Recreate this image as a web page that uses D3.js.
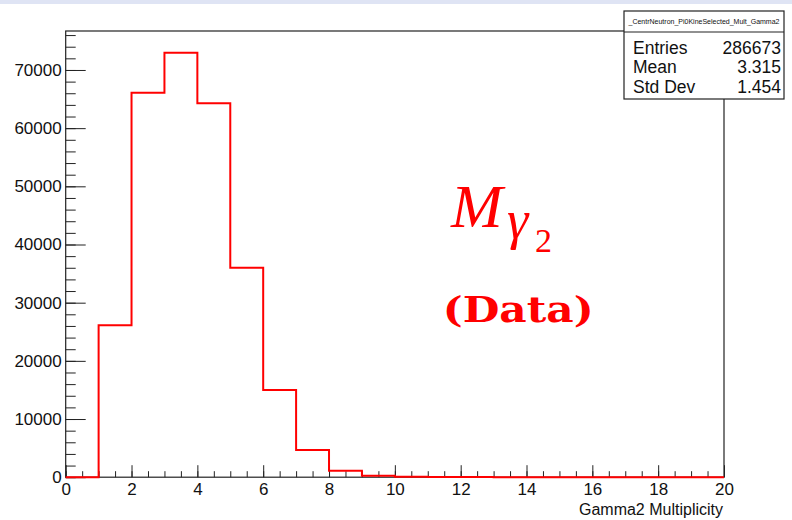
<!DOCTYPE html>
<html>
<head>
<meta charset="utf-8">
<script src="https://cdn.jsdelivr.net/npm/d3@7"></script>
<style>
  body { margin: 0; background: #fff; }
  svg { display: block; font-family: "Liberation Sans", Arial, sans-serif; }
</style>
</head>
<body>
<div id="chart"></div>
<script>
// histogram bins: lower edges 0..19, width 1
const binEdges = [0, 1, 2, 3, 4, 5, 6, 7, 8, 9, 10, 11, 12, 13, 14, 15, 16, 17, 18, 19]
const binCounts = [0, 26100, 66100, 72980, 64280, 36020, 14970, 4680, 1120, 260, 90, 40, 15, 5, 2, 1, 0, 0, 0, 0]
const xMajorTicks = [0, 2, 4, 6, 8, 10, 12, 14, 16, 18, 20]
const yMajorTicks = [0, 10000, 20000, 30000, 40000, 50000, 60000, 70000]
const statLabels = ["Entries", "Mean", "Std Dev"]
const statValues = ["286673", "3.315", "1.454"]
const histName = "_CentrNeutron_Pi0KineSelected_Mult_Gamma2"
const xTitle = "Gamma2 Multiplicity"

const W = 792, H = 520
const FRAME = { LEFT: 65.7, RIGHT: 724, TOP: 31, BOTTOM: 477.2 }
const RED = "#ff0000"

const svg = d3.select("#chart").append("svg")
              .attr("width", W)
              .attr("height", H)

// top band of the window
svg.append("rect")
   .attr("x", 0).attr("y", 0)
   .attr("width", W).attr("height", 4)
   .attr("fill", "#dfe4f4")

const x = d3.scaleLinear()
            .domain([0, 20])
            .range([FRAME.LEFT, FRAME.RIGHT])
const y = d3.scaleLinear()
            .domain([0, 76700])
            .range([FRAME.BOTTOM, FRAME.TOP])

// frame
svg.append("rect")
   .attr("x", FRAME.LEFT).attr("y", FRAME.TOP)
   .attr("width", FRAME.RIGHT - FRAME.LEFT)
   .attr("height", FRAME.BOTTOM - FRAME.TOP)
   .attr("fill", "none")
   .attr("stroke", "#222")
   .attr("stroke-width", 1.2)

// minor ticks
const yMinor = d3.range(0, 76001, 2000)
const xMinor = d3.range(0, 20.01, 0.5)

svg.append("g")
   .attr("transform", `translate(${FRAME.LEFT},0)`)
   .call(d3.axisLeft(y).tickValues(yMinor).tickSizeInner(-10).tickSizeOuter(0).tickFormat(""))
   .call(g => g.select(".domain").remove())
   .call(g => g.selectAll("line").attr("stroke", "#222"))

svg.append("g")
   .attr("transform", `translate(0,${FRAME.BOTTOM})`)
   .call(d3.axisBottom(x).tickValues(xMinor).tickSizeInner(-6).tickSizeOuter(0).tickFormat(""))
   .call(g => g.select(".domain").remove())
   .call(g => g.selectAll("line").attr("stroke", "#222"))

// major ticks + labels
const yAxis = svg.append("g")
   .attr("transform", `translate(${FRAME.LEFT},0)`)
   .call(d3.axisLeft(y).tickValues(yMajorTicks).tickSizeInner(-20).tickSizeOuter(0).tickPadding(4).tickFormat(d3.format("d")))
yAxis.select(".domain").remove()
yAxis.selectAll("line").attr("stroke", "#222")
yAxis.selectAll("text")
     .attr("font-size", 17)
     .attr("fill", "#111")
     .attr("font-family", "Liberation Sans, Arial, sans-serif")

const xAxis = svg.append("g")
   .attr("transform", `translate(0,${FRAME.BOTTOM})`)
   .call(d3.axisBottom(x).tickValues(xMajorTicks).tickSizeInner(-12).tickSizeOuter(0).tickFormat(d3.format("d")))
xAxis.select(".domain").remove()
xAxis.selectAll("line").attr("stroke", "#222")
xAxis.selectAll("text")
     .attr("y", 18).attr("dy", 0)
     .attr("font-size", 17)
     .attr("fill", "#111")
     .attr("font-family", "Liberation Sans, Arial, sans-serif")

svg.append("text")
   .attr("x", FRAME.RIGHT - 1)
   .attr("y", 514.5)
   .attr("text-anchor", "end")
   .attr("font-size", 16)
   .attr("fill", "#111")
   .text(xTitle)

// histogram outline
const pts = [[binEdges[0], 0]]
binEdges.forEach((e, i) => {
  pts.push([e, binCounts[i]])
  pts.push([e + 1, binCounts[i]])
})
pts.push([binEdges[binEdges.length - 1] + 1, 0])

const line = d3.line()
               .x(d => x(d[0]))
               .y(d => y(d[1]))

svg.append("path")
   .datum(pts)
   .attr("fill", "none")
   .attr("stroke", RED)
   .attr("stroke-width", 2)
   .attr("d", line)

// annotation
const ann = svg.append("text")
               .attr("fill", RED)
               .attr("font-family", "Liberation Serif, Times New Roman, serif")
ann.append("tspan")
   .attr("x", 451).attr("y", 226.5)
   .attr("font-style", "italic")
   .attr("font-size", 62)
   .text("M")
ann.append("tspan")
   .attr("x", 507).attr("y", 238)
   .attr("font-style", "italic")
   .attr("font-size", 54)
   .text("γ")
ann.append("tspan")
   .attr("x", 535).attr("y", 251.5)
   .attr("font-size", 34)
   .text("2")

svg.append("text")
   .attr("x", 442.7)
   .attr("y", 322)
   .attr("fill", RED)
   .attr("font-family", "DejaVu Serif, serif")
   .attr("font-weight", "bold")
   .attr("font-size", 35)
   .attr("textLength", 151)
   .attr("lengthAdjust", "spacingAndGlyphs")
   .text("(Data)")

// stats box
const box = { x: 624, y: 11, w: 160, titleH: 21, rowsH: 67 }
svg.append("rect")
   .attr("x", box.x).attr("y", box.y)
   .attr("width", box.w).attr("height", box.titleH + box.rowsH)
   .attr("fill", "#fff")
   .attr("stroke", "#222")
   .attr("stroke-width", 1.2)
svg.append("line")
   .attr("x1", box.x).attr("x2", box.x + box.w)
   .attr("y1", box.y + box.titleH).attr("y2", box.y + box.titleH)
   .attr("stroke", "#222")
   .attr("stroke-width", 1.2)
svg.append("text")
   .attr("x", box.x + box.w / 2)
   .attr("y", 24)
   .attr("text-anchor", "middle")
   .attr("font-size", 7.5)
   .attr("textLength", 151)
   .attr("lengthAdjust", "spacingAndGlyphs")
   .attr("fill", "#111")
   .text(histName)

statLabels.forEach((label, i) => {
  const by = 53.5 + i * 19.5
  svg.append("text")
     .attr("x", 633).attr("y", by)
     .attr("font-size", 17.5)
     .attr("fill", "#111")
     .text(label)
  svg.append("text")
     .attr("x", 781).attr("y", by)
     .attr("text-anchor", "end")
     .attr("font-size", 17.5)
     .attr("fill", "#111")
     .text(statValues[i])
})
</script>
</body>
</html>
